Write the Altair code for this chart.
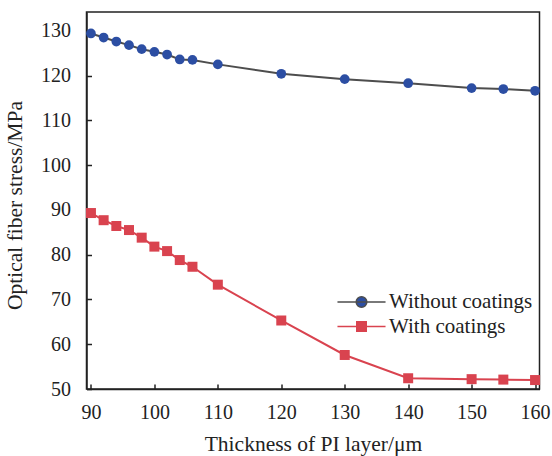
import altair as alt
import pandas as pd

thickness = [90, 92, 94, 96, 98, 100, 102, 104, 106, 110, 120, 130, 140, 150, 155, 160]
without_coatings = [129.4, 128.5, 127.6, 126.8, 125.9, 125.3, 124.7, 123.6, 123.5, 122.5, 120.4, 119.2, 118.3, 117.2, 117.0, 116.6]
with_coatings = [89.3, 87.7, 86.4, 85.5, 83.8, 81.8, 80.8, 78.8, 77.3, 73.3, 65.3, 57.6, 52.4, 52.2, 52.1, 52.0]
series_names = ["Without coatings", "With coatings"]
line_colors = ["#4d4d4d", "#d9434f"]
point_colors = ["#2c4ea3", "#d9434f"]
x_ticks = [90, 100, 110, 120, 130, 140, 150, 160]
y_ticks = [50, 60, 70, 80, 90, 100, 110, 120, 130]

df = pd.concat([
    pd.DataFrame({"x": thickness, "y": without_coatings, "series": series_names[0]}),
    pd.DataFrame({"x": thickness, "y": with_coatings, "series": series_names[1]}),
])

FONT = "'Liberation Serif', 'Times New Roman', Times, 'DejaVu Serif', serif"
xscale = alt.Scale(domain=[89.3, 160.7], nice=False, zero=False)
yscale = alt.Scale(domain=[50, 134.2], nice=False, zero=False)

# legend symbols: a line segment with the series marker on it
circle_sym = "M-2.53,0H2.53M0.56,0A0.56,0.56,0,1,1,-0.56,0A0.56,0.56,0,1,1,0.56,0Z"
square_sym = "M-2.53,0H2.53M-0.5,-0.5H0.5V0.5H-0.5Z"

legend = alt.Legend(
    title=None, orient="none", legendX=264.5, legendY=279.5,
    symbolSize=361, symbolStrokeWidth=1.5,
    labelOffset=17, rowPadding=2.5, labelFontSize=21,
    labelFont=FONT, labelColor="#222", symbolOpacity=1,
)

lines = alt.Chart(df).mark_line(strokeWidth=2).encode(
    x=alt.X("x:Q", scale=xscale,
            axis=alt.Axis(values=x_ticks, title="Thickness of PI layer/μm", grid=False,
                          ticks=False, labelPadding=13.5, orient="bottom",
                          titleBaseline="alphabetic", titleY=61.5)),
    y=alt.Y("y:Q", scale=yscale,
            axis=alt.Axis(values=y_ticks, title="Optical fiber stress/MPa", grid=False,
                          ticks=False, labelPadding=16, orient="left",
                          titleBaseline="alphabetic", titleX=-65, titleY=193)),
    color=alt.Color("series:N", scale=alt.Scale(domain=series_names, range=line_colors), legend=legend),
)

fill_enc = alt.Fill("series:N", scale=alt.Scale(domain=series_names, range=point_colors), legend=legend)

circles = alt.Chart(df).transform_filter(
    alt.datum.series == series_names[0]
).mark_point(filled=True, opacity=1, shape="circle", size=95).encode(
    x=alt.X("x:Q", scale=xscale,
            axis=alt.Axis(values=x_ticks, title=None, labels=False, domain=False, grid=False,
                          tickSize=5, offset=-5, orient="bottom")),
    y=alt.Y("y:Q", scale=yscale,
            axis=alt.Axis(values=y_ticks, title=None, labels=False, domain=False, grid=False,
                          tickSize=5, offset=-5, orient="left")),
    fill=fill_enc,
)

squares = alt.Chart(df).transform_filter(
    alt.datum.series == series_names[1]
).mark_point(filled=True, opacity=1, shape="square", size=100).encode(
    x=alt.X("x:Q", scale=xscale, axis=None),
    y=alt.Y("y:Q", scale=yscale, axis=None),
    fill=fill_enc,
)

legend_shapes = alt.Chart(df).transform_filter("false").mark_point().encode(
    x=alt.X("x:Q", scale=xscale, axis=None),
    y=alt.Y("y:Q", scale=yscale, axis=None),
    shape=alt.Shape("series:N", scale=alt.Scale(domain=series_names, range=[circle_sym, square_sym]), legend=legend),
)

chart = alt.layer(lines, circles, squares, legend_shapes).resolve_axis(
    x="independent", y="independent"
).properties(
    width=453, height=377,
    autosize=alt.AutoSizeParams(type="none"),
    padding={"left": 86.5, "top": 12, "right": 12.5, "bottom": 67},
    background="white",
).configure_view(
    stroke="#222", strokeWidth=1.5,
).configure_axis(
    labelFont=FONT, titleFont=FONT, labelFontSize=20, titleFontSize=21.5,
    labelColor="#222", titleColor="#222", titleFontWeight="normal",
    domainColor="#222", tickColor="#222", domainWidth=1.5, tickWidth=1.5,
)

chart.save("out.html", embed_options={"renderer": "svg", "actions": False})
